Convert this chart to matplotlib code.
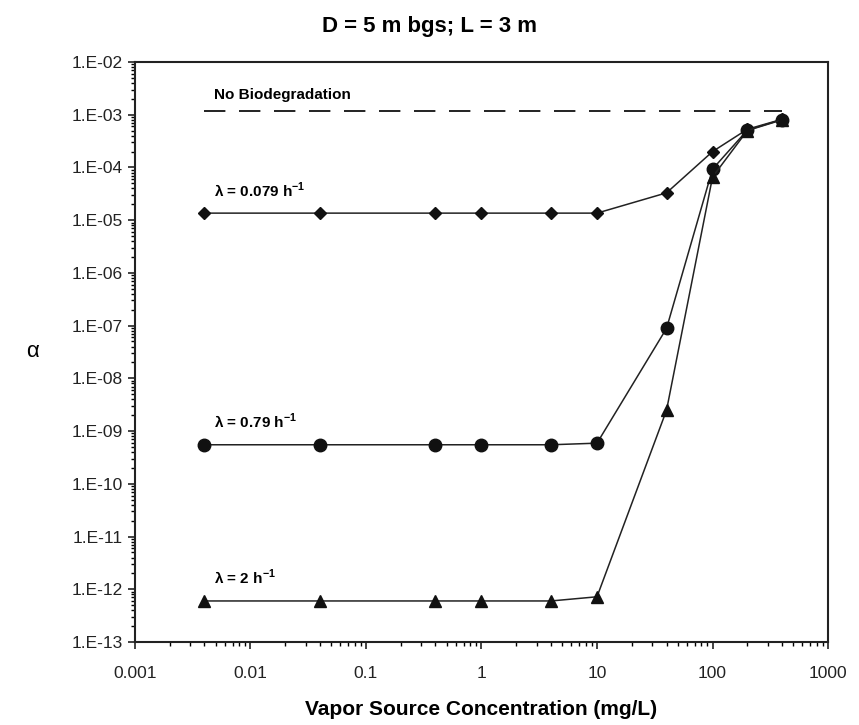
import numpy as np
import matplotlib
matplotlib.use("Agg")
import matplotlib.pyplot as plt
from matplotlib.ticker import FixedLocator, FuncFormatter, LogLocator, NullFormatter

# data
conc = [0.004, 0.04, 0.4, 1, 4, 10, 40, 100, 200, 400]
alpha_0079 = [1.36e-5, 1.36e-5, 1.36e-5, 1.36e-5, 1.36e-5, 1.36e-5, 3.3e-5, 2.0e-4, 5.3e-4, 8.2e-4]
alpha_079 = [5.5e-10, 5.5e-10, 5.5e-10, 5.5e-10, 5.5e-10, 5.9e-10, 8.9e-8, 9.3e-5, 5.1e-4, 8.1e-4]
alpha_2 = [6.0e-13, 6.0e-13, 6.0e-13, 6.0e-13, 6.0e-13, 7.2e-13, 2.5e-9, 6.6e-5, 5.0e-4, 8.0e-4]
no_bio_x = [0.004, 400]
no_bio_y = [1.17e-3, 1.17e-3]

y_ticks = [10.0 ** e for e in range(-13, -1)]
x_ticks = [0.001, 0.01, 0.1, 1, 10, 100, 1000]
x_ticklabels = ["0.001", "0.01", "0.1", "1", "10", "100", "1000"]

plt.rcParams["font.family"] = ["Liberation Sans", "DejaVu Sans"]
plt.rcParams["mathtext.fontset"] = "custom"
plt.rcParams["mathtext.rm"] = "Liberation Sans"
plt.rcParams["mathtext.bf"] = "Liberation Sans:bold"

fig = plt.figure(figsize=(8.59, 7.25), dpi=100)
ax = fig.add_axes([0.157, 0.1145, 0.807, 0.80])

line_kw = dict(color="#222222", linewidth=1.1, markeredgecolor="#111111", markerfacecolor="#111111")
ax.plot(conc, alpha_0079, marker="D", markersize=6, **line_kw)
ax.plot(conc, alpha_079, marker="o", markersize=9, **line_kw)
ax.plot(conc, alpha_2, marker="^", markersize=8.5, **line_kw)
ax.plot(no_bio_x, no_bio_y, color="#222222", linewidth=1.4, dashes=(11, 7))

ax.set_xscale("log")
ax.set_yscale("log")
ax.set_xlim(0.001, 1000)
ax.set_ylim(1e-13, 1e-2)

ax.xaxis.set_major_locator(FixedLocator(x_ticks))
ax.set_xticklabels(x_ticklabels)
ax.xaxis.set_minor_locator(LogLocator(base=10, subs=np.arange(2, 10)))
ax.xaxis.set_minor_formatter(NullFormatter())
ax.yaxis.set_major_locator(FixedLocator(y_ticks))
ax.yaxis.set_major_formatter(FuncFormatter(lambda v, p: "1.E-%02d" % round(-np.log10(v))))
ax.yaxis.set_minor_locator(LogLocator(base=10, subs=np.arange(2, 10), numticks=30))
ax.yaxis.set_minor_formatter(NullFormatter())

ax.tick_params(which="major", direction="out", length=5, width=1.2, labelsize=12.5, colors="#222222")
ax.tick_params(which="minor", direction="out", length=3, width=1.0)
ax.tick_params(axis="x", pad=12)
for s in ax.spines.values():
    s.set_linewidth(1.5)
    s.set_color("#222222")

ax.set_xlabel("Vapor Source Concentration (mg/L)", fontsize=15, fontweight="bold", labelpad=14)
ax.set_ylabel("\u03b1", fontsize=16, rotation=0, labelpad=28, va="center")

ax.text(0.0048, 1.75e-3, "No Biodegradation", fontsize=11, fontweight="bold", va="bottom")
ax.text(0.0048, 2.4e-5, r"$\mathbf{\lambda}$ = 0.079 h$^{\mathbf{-1}}$", fontsize=11, fontweight="bold", va="bottom")
ax.text(0.0048, 1.0e-9, r"$\mathbf{\lambda}$ = 0.79 h$^{\mathbf{-1}}$", fontsize=11, fontweight="bold", va="bottom")
ax.text(0.0048, 1.1e-12, r"$\mathbf{\lambda}$ = 2 h$^{\mathbf{-1}}$", fontsize=11, fontweight="bold", va="bottom")

fig.text(0.5, 0.963, "D = 5 m bgs; L = 3 m", fontsize=16, fontweight="bold", ha="center", va="center")

fig.savefig("out.png", dpi=100)
